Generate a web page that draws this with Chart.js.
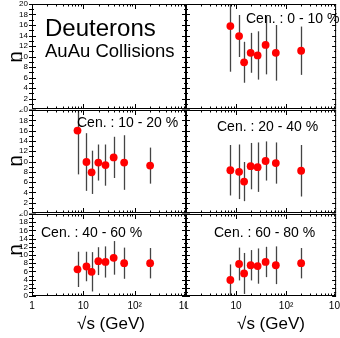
<!DOCTYPE html>
<html><head><meta charset="utf-8">
<script src="https://cdn.jsdelivr.net/npm/chart.js@4"></script>
<style>
html,body{margin:0;padding:0;background:#fff;}
#wrap{position:relative;width:340px;height:338px;overflow:hidden;background:#fff;}
canvas{position:absolute;left:0;top:0;}
</style></head><body><div id="wrap"></div>
<script>
// ---- data ----
const energies = [7.7, 11.5, 14.5, 19.6, 27, 39, 62.4, 200];
const centralityLabels = ['Cen. : 0 - 10 %', 'Cen. : 10 - 20 %', 'Cen. : 20 - 40 %', 'Cen. : 40 - 60 %', 'Cen. : 60 - 80 %'];
const n_0_10  = [15.8, 13.9, 8.9, 10.7, 10.2, 12.2, 10.7, 11.1];
const e_0_10  = [8.7, 4.0, 3.9, 3.8, 4.6, 5.6, 5.3, 4.6];
const n_10_20 = [16.0, 9.9, 7.9, 9.8, 9.3, 10.8, 9.8, 9.2];
const e_10_20 = [8.5, 5.6, 4.2, 3.5, 4.0, 4.0, 5.3, 3.5];
const n_20_40 = [8.3, 8.0, 6.1, 9.1, 8.9, 10.1, 9.7, 8.2];
const e_20_40 = [4.9, 5.3, 3.8, 4.5, 4.8, 3.8, 4.0, 5.0];
const n_40_60 = [6.5, 7.2, 5.9, 8.5, 8.3, 9.3, 8.0, 8.0];
const e_40_60 = [4.3, 3.6, 4.8, 3.4, 3.8, 4.1, 3.8, 3.7];
const n_60_80 = [3.9, 7.8, 5.5, 7.5, 7.3, 8.3, 7.5, 8.0];
const e_60_80 = [3.8, 4.0, 5.0, 3.7, 4.3, 3.7, 4.6, 3.7];
const yTickLabels = ['0','2','4','6','8','10','12','14','16','18','20'];
const xTickLabels = ['1','10','10\u00B2','10\u00B3'];
const xTitle = '\u221As (GeV)';
const yTitle = 'n';

// ---- layout ----
const W = 340, H = 338;
const cols = [{l:32, r:186}, {l:186, r:340}];
const rows = [{t:4, b:109}, {t:110, b:213}, {t:214, b:296}];
const padRows = [{t:0, b:109.5}, {t:109.5, b:213.5}, {t:213.5, b:H}];
const padCols = [{l:0, r:186}, {l:186, r:W}];
const FONT = '"Liberation Sans", Arial, Helvetica, sans-serif';

const errorBarPlugin = {
  id: 'errorBars',
  beforeDatasetsDraw(chart) {
    const {ctx, chartArea: a, scales: {x, y}} = chart;
    ctx.save();
    ctx.beginPath(); ctx.rect(a.left, a.top, a.right - a.left, a.bottom - a.top); ctx.clip();
    ctx.strokeStyle = '#444'; ctx.lineWidth = 1.3;
    chart.data.datasets.forEach(ds => {
      ds.data.forEach((p, i) => {
        const e = ds.errors[i];
        const px = Math.round(x.getPixelForValue(p.x)) + 0.5;
        ctx.beginPath();
        ctx.moveTo(px, y.getPixelForValue(p.y - e));
        ctx.lineTo(px, y.getPixelForValue(p.y + e));
        ctx.stroke();
      });
    });
    ctx.restore();
  }
};

const framePlugin = {
  id: 'rootFrame',
  afterDraw(chart, args, o) {
    const {ctx, chartArea: a, scales: {x, y}} = chart;
    ctx.save();
    ctx.beginPath(); ctx.rect(o.pad.l, o.pad.t, o.pad.r - o.pad.l, o.pad.b - o.pad.t); ctx.clip();
    ctx.strokeStyle = '#000'; ctx.lineWidth = 1;
    ctx.strokeRect(a.left + 0.5, a.top + 0.5, a.right - a.left - 1, a.bottom - a.top - 1);
    for (let v = 0; v <= 20; v += 1) {
      const py = Math.round(y.getPixelForValue(v)) + 0.5;
      const len = (v % 2 === 0) ? 4 : 2;
      ctx.beginPath();
      ctx.moveTo(a.left - (o.col === 0 ? 3 : 0), py); ctx.lineTo(a.left + len, py);
      ctx.moveTo(a.right - len, py); ctx.lineTo(a.right, py);
      ctx.stroke();
    }
    for (let d = 0; d < 3; d++) {
      for (let m = 1; m <= 9; m++) {
        const val = m * Math.pow(10, d);
        const px = Math.round(x.getPixelForValue(val)) + 0.5;
        const len = m === 1 ? 5 : 2.5;
        ctx.beginPath();
        ctx.moveTo(px, a.bottom); ctx.lineTo(px, a.bottom - len);
        ctx.moveTo(px, a.top); ctx.lineTo(px, a.top + len);
        ctx.stroke();
      }
    }
    ctx.fillStyle = '#000';
    if (o.col === 0) {
      ctx.font = '8px ' + FONT; ctx.textAlign = 'right'; ctx.textBaseline = 'middle';
      yTickLabels.forEach(t => ctx.fillText(t, a.left - 4, y.getPixelForValue(+t)));
      ctx.save();
      ctx.translate(16, o.titleY); ctx.rotate(-Math.PI / 2);
      ctx.font = '21px ' + FONT; ctx.textAlign = 'center'; ctx.textBaseline = 'middle';
      ctx.fillText(yTitle, 0, 0);
      ctx.restore();
    }
    if (o.row === 2) {
      ctx.font = '10px ' + FONT; ctx.textAlign = 'center'; ctx.textBaseline = 'alphabetic';
      xTickLabels.forEach((t, i) => ctx.fillText(t, x.getPixelForValue(Math.pow(10, i)), 309));
      ctx.font = '17px ' + FONT;
      ctx.fillText(xTitle, o.col === 0 ? 111 : 271, 329);
    }
    ctx.textAlign = 'left'; ctx.textBaseline = 'alphabetic';
    ctx.font = '14px ' + FONT;
    ctx.fillText(o.label, o.lx, o.ly);
    if (o.extra) {
      ctx.font = '24px ' + FONT; ctx.fillText('Deuterons', 45, 36);
      ctx.font = '18.5px ' + FONT; ctx.fillText('AuAu Collisions', 45, 57);
    }
    ctx.restore();
  }
};

const wrap = document.getElementById('wrap');
function makePanel(row, col, values, errs, label, lx, ly, titleY, extra) {
  const cv = document.createElement('canvas');
  cv.width = W; cv.height = H; wrap.appendChild(cv);
  const f = {l: cols[col].l, r: cols[col].r, t: rows[row].t, b: rows[row].b};
  new Chart(cv, {
    type: 'scatter',
    data: {datasets: [{
      data: values ? energies.map((e, i) => ({x: e, y: values[i]})) : [],
      errors: errs || [],
      pointRadius: 3.9, pointHoverRadius: 3.9, pointBorderWidth: 0,
      backgroundColor: '#ff0000', borderColor: '#ff0000'
    }]},
    options: {
      responsive: false, animation: false, devicePixelRatio: 1,
      layout: {padding: {left: f.l, right: W - f.r, top: f.t, bottom: H - f.b}},
      scales: {
        x: {type: 'logarithmic', min: 1, max: 1000, display: false},
        y: {type: 'linear', min: 0, max: 20, display: false}
      },
      plugins: {
        legend: {display: false}, tooltip: {enabled: false},
        rootFrame: {row, col, label, lx, ly, titleY, extra,
          pad: {l: padCols[col].l, r: padCols[col].r, t: padRows[row].t, b: padRows[row].b}}
      }
    },
    plugins: [errorBarPlugin, framePlugin]
  });
}

makePanel(0, 0, null, null, '', 0, 0, 57, true);
makePanel(0, 1, n_0_10, e_0_10, centralityLabels[0], 246, 23, 57, false);
makePanel(1, 0, n_10_20, e_10_20, centralityLabels[1], 77, 127, 161, false);
makePanel(1, 1, n_20_40, e_20_40, centralityLabels[2], 217, 131, 161, false);
makePanel(2, 0, n_40_60, e_40_60, centralityLabels[3], 41, 237, 250, false);
makePanel(2, 1, n_60_80, e_60_80, centralityLabels[4], 214, 237, 250, false);
</script></body></html>
